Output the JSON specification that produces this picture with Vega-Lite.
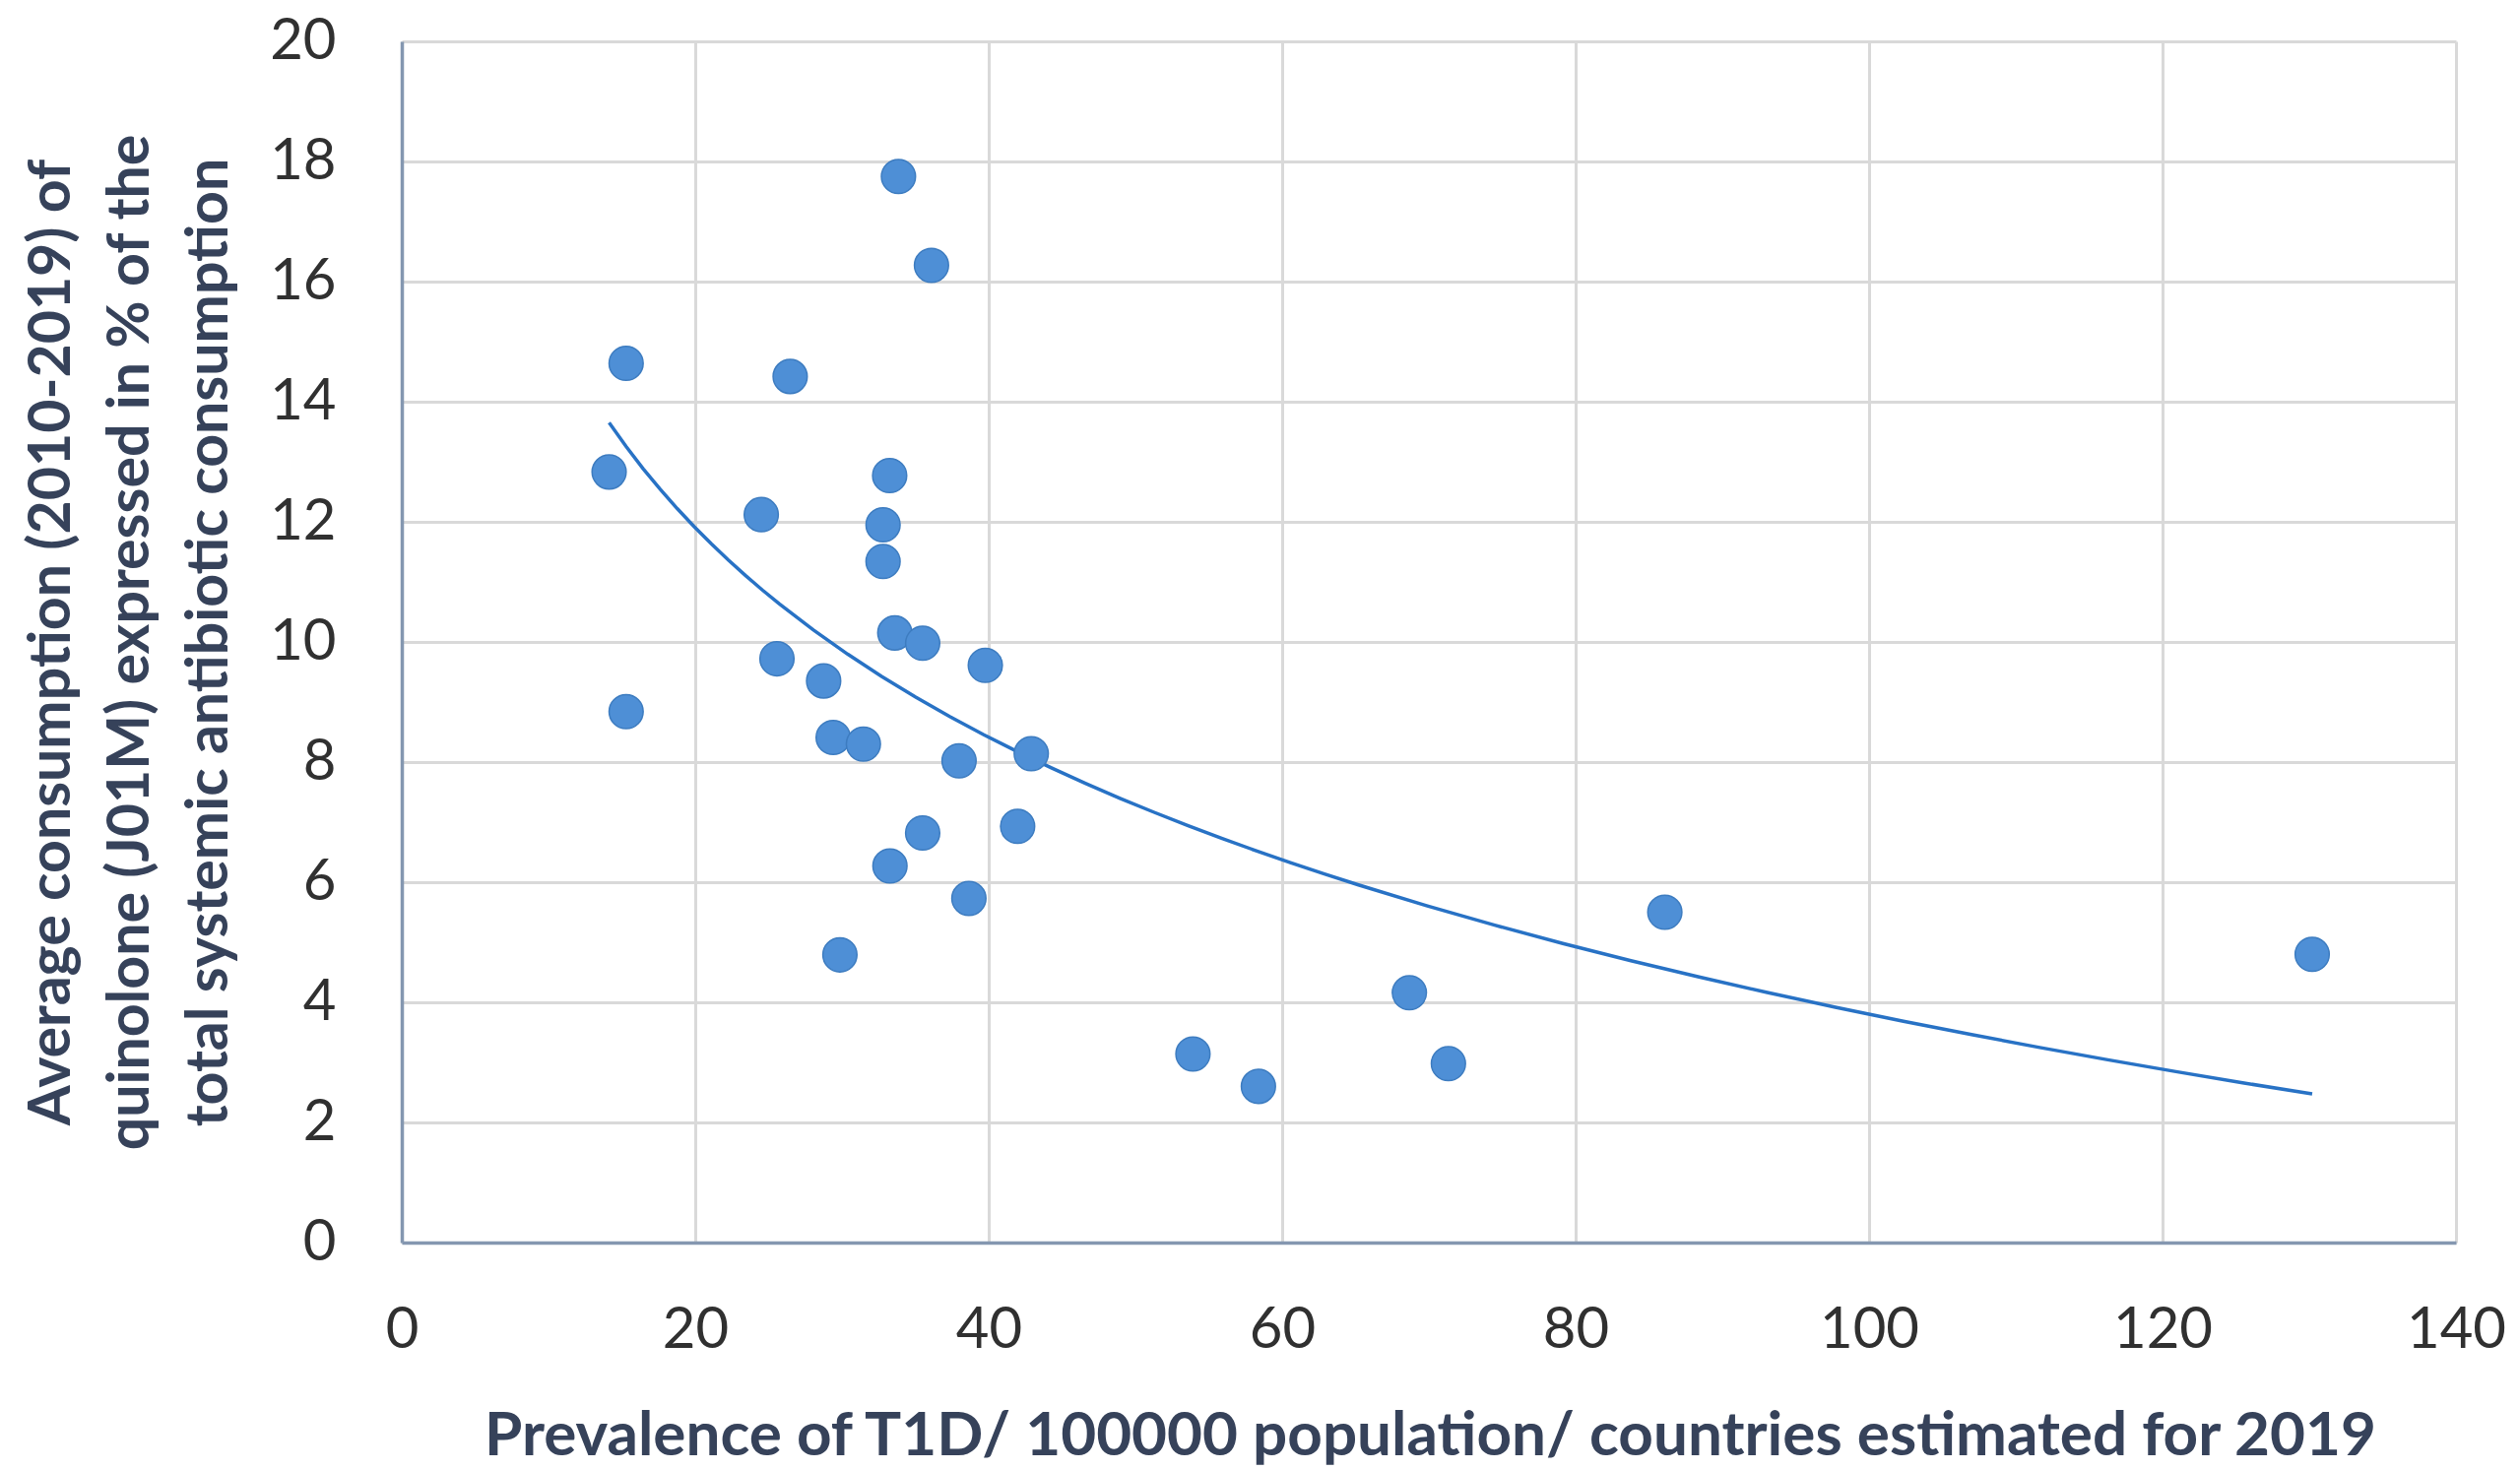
{
  "$schema": "https://vega.github.io/schema/vega-lite/v6.json",
  "width": 2086,
  "height": 1220,
  "autosize": {"type": "none"},
  "padding": {"left": 408, "top": 42, "right": 65, "bottom": 231},
  "background": "white",
  "config": {
    "view": {"stroke": null},
    "axis": {
      "grid": true,
      "gridColor": "#d9d9d9",
      "gridWidth": 3,
      "domainColor": "#8497b0",
      "domainWidth": 3.5,
      "ticks": false,
      "tickSize": 0,
      "labelFlush": false,
      "labelFont": "Lato",
      "labelFontSize": 58,
      "labelColor": "#303030",
      "titleFont": "Lato",
      "titleFontWeight": "bold",
      "titleColor": "#36425a"
    }
  },
  "data": {
    "values": [
      {"x": 14.13, "y": 12.83},
      {"x": 15.29, "y": 14.64},
      {"x": 15.29, "y": 8.84},
      {"x": 24.5, "y": 12.12},
      {"x": 26.47, "y": 14.42},
      {"x": 25.57, "y": 9.72},
      {"x": 28.75, "y": 9.35},
      {"x": 29.4, "y": 8.41},
      {"x": 31.46, "y": 8.3},
      {"x": 29.86, "y": 4.79},
      {"x": 33.85, "y": 17.75},
      {"x": 36.1, "y": 16.27},
      {"x": 33.25, "y": 12.77},
      {"x": 32.8, "y": 11.95},
      {"x": 32.8, "y": 11.34},
      {"x": 33.6, "y": 10.15},
      {"x": 35.5, "y": 9.98},
      {"x": 39.77, "y": 9.61},
      {"x": 37.98, "y": 8.02},
      {"x": 42.9, "y": 8.14},
      {"x": 35.5, "y": 6.82},
      {"x": 33.27, "y": 6.27},
      {"x": 41.97, "y": 6.93},
      {"x": 38.65, "y": 5.73},
      {"x": 53.92, "y": 3.14},
      {"x": 58.38, "y": 2.6},
      {"x": 68.67, "y": 4.16},
      {"x": 71.33, "y": 2.98},
      {"x": 86.08, "y": 5.5},
      {"x": 130.2, "y": 4.8}
    ]
  },
  "encoding": {
    "x": {
      "field": "x",
      "type": "quantitative",
      "scale": {"domain": [0, 140], "nice": false},
      "axis": {
        "values": [0, 20, 40, 60, 80, 100, 120, 140],
        "labelBaseline": "alphabetic",
        "labelPadding": 106,
        "title": "Prevalence of T1D/ 100000 population/ countries estimated for 2019",
        "titleFontSize": 62,
        "titleX": 1044,
        "titleY": 215,
        "titleBaseline": "alphabetic",
        "titleAlign": "center"
      }
    },
    "y": {
      "field": "y",
      "type": "quantitative",
      "scale": {"domain": [0, 20], "nice": false},
      "axis": {
        "values": [0, 2, 4, 6, 8, 10, 12, 14, 16, 18, 20],
        "labelAlign": "right",
        "labelBaseline": "middle",
        "labelPadding": 67,
        "title": ["Average consumption (2010-2019) of", "quinolone (J01M) expressed in % of the", "total systemic antibiotic consumption"],
        "titleFontSize": 59,
        "titleX": -356,
        "titleY": 610,
        "titleAngle": -90,
        "titleAlign": "center",
        "titleBaseline": "middle",
        "titleLineHeight": 80
      }
    }
  },
  "layer": [
    {
      "transform": [{"regression": "y", "on": "x", "method": "log"}],
      "mark": {"type": "line", "color": "#2872c5", "strokeWidth": 3.5}
    },
    {
      "mark": {"type": "circle", "size": 1200, "fill": "#4e8fd6", "stroke": "#3d7cc0", "strokeWidth": 1.5, "opacity": 1}
    }
  ]
}
